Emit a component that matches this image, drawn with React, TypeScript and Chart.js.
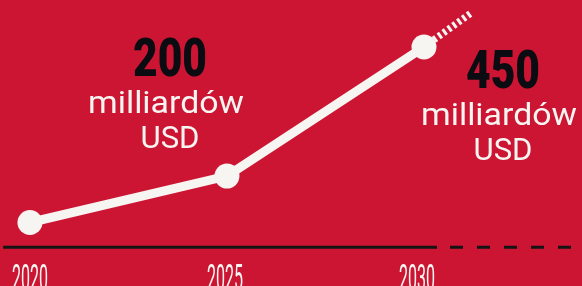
import React, { useEffect, useRef } from "react";
import { Chart, registerables } from "chart.js";

Chart.register(...registerables);

// ---- data ----
const years = [2020, 2025, 2030];
const marketValues = [110, 200, 450]; // mld USD
const trendYears = [2030, 2031.2];
const trendValues = [450, 516];
const yearLabels = ["2020", "2025", "2030"];
const calloutNumbers = ["200", "450"];
const calloutUnitLines = ["milliardów", "USD"];
const baselineLevel = 62;
const solidBaselineYears = [2019.32, 2030.33];
const dashedBaselineYears = [2030.66, 2033.76];

const RED = "#CC1533";
const WHITE = "#F7F5F2";
const INK = "#0B0B12";

function fitText(
  ctx: CanvasRenderingContext2D,
  text: string,
  cx: number,
  baseline: number,
  font: string,
  targetWidth: number,
  color: string
) {
  ctx.save();
  ctx.font = font;
  ctx.fillStyle = color;
  ctx.textAlign = "center";
  ctx.textBaseline = "alphabetic";
  const w = ctx.measureText(text).width;
  const s = targetWidth / w;
  ctx.translate(cx, baseline);
  ctx.scale(s, 1);
  ctx.fillText(text, 0, 0);
  ctx.restore();
}

const decorPlugin = {
  id: "decor",
  beforeDraw(chart: any) {
    const { ctx, width, height } = chart;
    ctx.save();
    ctx.fillStyle = RED;
    ctx.fillRect(0, 0, width, height);
    ctx.restore();
  },
  afterDraw(chart: any) {
    const ctx = chart.ctx as CanvasRenderingContext2D;
    const xs = chart.scales.x;
    // year labels
    const shifts = [0, -2, -7];
    yearLabels.forEach((lab, i) => {
      const px = xs.getPixelForValue(years[i]);
      fitText(ctx, lab, px + shifts[i], 290, "400 36px Roboto", 36, WHITE);
    });
    // callouts
    const blocks = [
      { cx: 168, top: 76 },
      { cx: 501, top: 88 },
    ];
    blocks.forEach((b, i) => {
      fitText(ctx, calloutNumbers[i], b.cx + 2, b.top, "900 54px Roboto", 74, INK);
      fitText(ctx, calloutUnitLines[0], b.cx - 2, b.top + 37, "31px Roboto", 156, WHITE);
      fitText(ctx, calloutUnitLines[1], b.cx + 2, b.top + 72, "31px Roboto", 59, WHITE);
    });
  },
};

export default function App() {
  const ref = useRef<HTMLCanvasElement | null>(null);
  useEffect(() => {
    if (!ref.current) return;
    const chart = new Chart(ref.current, {
      type: "line",
      data: {
        datasets: [
          {
            data: years.map((y, i) => ({ x: y, y: marketValues[i] })),
            borderColor: WHITE,
            backgroundColor: WHITE,
            borderWidth: 9,
            pointRadius: 12.5,
            pointBorderWidth: 0,
            pointBackgroundColor: WHITE,
            tension: 0,
          },
          {
            data: trendYears.map((y, i) => ({ x: y, y: trendValues[i] })),
            borderColor: WHITE,
            borderWidth: 7,
            borderDash: [3, 3],
            pointRadius: 0,
            tension: 0,
          },
          {
            data: solidBaselineYears.map((y) => ({ x: y, y: baselineLevel })),
            borderColor: "#141414",
            borderWidth: 3,
            pointRadius: 0,
          },
          {
            data: dashedBaselineYears.map((y) => ({ x: y, y: baselineLevel })),
            borderColor: "#141414",
            borderWidth: 3,
            borderDash: [13, 14],
            pointRadius: 0,
          },
        ],
      },
      options: {
        animation: false,
        responsive: true,
        maintainAspectRatio: false,
        layout: { padding: 0, autoPadding: false },
        plugins: { legend: { display: false }, tooltip: { enabled: false } },
        scales: {
          x: { type: "linear", min: 2019.24, max: 2034.01, display: false },
          y: { type: "linear", min: -13, max: 541, display: false },
        },
      },
      plugins: [decorPlugin],
    });
    return () => chart.destroy();
  }, []);
  return (
    <div style={{ position: "fixed", left: 0, top: 0, width: 582, height: 286, background: RED }}>
      <canvas ref={ref} />
    </div>
  );
}
